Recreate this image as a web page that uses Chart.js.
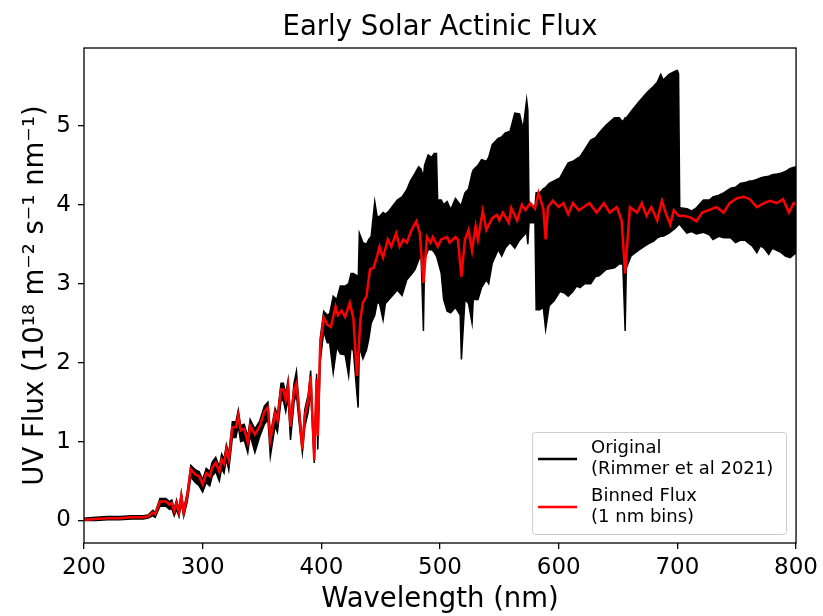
<!DOCTYPE html>
<html lang="en">
<head>
<meta charset="UTF-8">
<title>Early Solar Actinic Flux</title>
<script src="https://cdn.jsdelivr.net/npm/chart.js"></script>
<style>
  body, html { margin: 0; padding: 0; background: #fff; }
  #wrap { width: 823px; height: 616px; }
</style>
</head>
<body>
<div id="wrap"><canvas id="fluxChart" width="823" height="616"></canvas></div>
<script>
// binned flux (1 nm bins)
const redNm = [
  200,210,220,230,240,250,254,258,260,264,
  269,272,274,276,278,280,282,284,287,290,
  294,297,300,303,306,308,311,314,316,318,
  320,322,325,328,330,332,335,338,340,344,
  348,352,355,357,361,363,366,368,370,372,
  374,377,379,381,384,386,389,391,394,396,
  397,399,402,405,408,410,412,414,417,420,
  424,427,430,433,435,438,441,444,447,449,
  452,456,459,463,466,469,472,476,480,483,
  486,489,492,494,498,501,506,508,513,515,
  518,521,524,527,530,532,536,539,544,548,
  550,553,558,560,565,569,572,576,580,583,
  587,589,591,595,600,604,608,612,617,621,
  626,632,638,643,649,653,656,660,666,670,
  674,678,683,687,691,694,697,701,705,711,
  716,721,728,733,739,744,750,756,761,767,
  773,778,784,789,794,798,800
];
const redFlux = [
  0.01,0.02,0.03,0.03,0.04,0.04,0.05,0.10,0.08,0.24,
  0.24,0.20,0.22,0.12,0.22,0.10,0.31,0.10,0.31,0.65,
  0.58,0.56,0.46,0.60,0.56,0.67,0.73,0.62,0.77,0.72,
  0.90,0.77,1.18,1.18,1.33,1.14,1.16,0.99,1.20,1.09,
  1.19,1.38,1.43,1.02,1.36,1.27,1.66,1.66,1.53,1.70,
  1.19,1.66,1.74,1.43,0.90,1.32,1.53,1.83,0.77,1.79,
  1.07,2.21,2.57,2.48,2.45,2.58,2.71,2.60,2.66,2.58,
  2.76,2.56,1.83,2.56,2.76,2.84,3.18,3.20,3.35,3.47,
  3.33,3.56,3.47,3.64,3.47,3.56,3.52,3.68,3.79,3.64,
  3.01,3.59,3.52,3.59,3.47,3.56,3.59,3.52,3.59,3.56,
  3.09,3.56,3.68,3.42,3.73,3.56,3.92,3.68,3.83,3.87,
  3.80,3.90,3.77,3.96,3.80,4.00,3.93,4.02,3.95,4.15,
  3.95,3.56,3.97,4.05,3.97,4.02,3.88,4.02,3.93,3.97,
  4.02,3.90,4.02,3.90,3.97,3.80,3.13,3.97,3.90,4.02,
  3.86,3.97,3.80,4.05,3.86,3.75,3.93,3.86,3.86,3.84,
  3.79,3.90,3.94,3.97,3.90,4.02,4.08,4.10,4.07,3.97,
  4.02,4.05,4.02,4.07,3.90,4.02,4.00
];

// original spectrum (Rimmer et al 2021): too dense to trace, so upper / lower envelope
const blackNm = [
  200,210,220,230,240,250,254,258,260,264,
  269,272,274,276,278,280,282,284,287,290,
  294,297,300,303,306,308,311,314,316,318,
  320,322,325,328,330,332,335,338,340,344,
  348,352,355,357,361,363,366,368,370,372,
  374,377,379,381,384,386,389,391,394,396,
  397,399,402,405,407,410,413,416,420,423,
  425,427,430,431,432,435,438,440,442,445,
  447,449,452,454,457,460,464,468,472,475,
  479,482,484,486,487,490,493,495,497,498,
  501,503,506,509,513,517,518,521,524,527,
  528,532,535,539,541,544,549,552,555,559,
  563,567,570,573,574,575,580,581,584,587,
  589,592,596,601,605,608,612,615,618,622,
  627,631,634,640,647,651,654,656,657,661,
  668,675,680,683,686,688,693,698,700,701,
  702,708,712,716,722,727,730,735,739,745,
  749,753,757,761,763,767,770,773,777,780,
  784,787,791,795,800
];
const blackHi = [
  0.03,0.04,0.05,0.05,0.06,0.06,0.07,0.13,0.10,0.28,
  0.28,0.24,0.26,0.15,0.26,0.14,0.35,0.14,0.36,0.70,
  0.64,0.62,0.52,0.66,0.62,0.74,0.80,0.68,0.84,0.78,
  0.96,0.84,1.25,1.25,1.40,1.20,1.22,1.06,1.28,1.16,
  1.26,1.45,1.50,1.08,1.42,1.34,1.74,1.74,1.60,1.78,
  1.26,1.74,1.89,1.50,0.97,1.40,1.60,1.90,0.84,1.86,
  1.12,2.30,2.65,2.60,2.62,2.84,2.80,2.97,2.97,3.00,
  3.13,3.13,3.10,3.00,3.64,3.52,3.50,3.56,3.60,4.04,
  3.85,3.85,3.90,3.88,3.92,3.98,4.06,4.10,4.19,4.30,
  4.40,4.48,4.45,4.35,4.50,4.63,4.60,4.65,4.65,4.06,
  4.06,4.00,4.04,3.94,4.08,4.00,4.00,4.15,4.20,4.40,
  4.44,4.50,4.57,4.55,4.60,4.76,4.84,4.86,4.91,4.93,
  5.16,5.15,4.96,5.33,5.20,3.98,3.98,4.15,4.15,4.20,
  4.22,4.27,4.30,4.34,4.45,4.53,4.55,4.58,4.61,4.70,
  4.82,4.85,4.91,5.01,5.10,5.10,5.05,5.10,5.10,5.18,
  5.31,5.43,5.50,5.55,5.65,5.58,5.65,5.69,5.70,5.66,
  3.96,3.95,3.92,3.96,4.06,4.06,4.10,4.12,4.15,4.21,
  4.22,4.27,4.28,4.30,4.30,4.32,4.34,4.35,4.36,4.38,
  4.39,4.40,4.42,4.46,4.48
];
const blackLo = [
  0.00,0.00,0.01,0.01,0.02,0.02,0.03,0.06,0.04,0.18,
  0.18,0.14,0.15,0.06,0.14,0.05,0.22,0.05,0.24,0.55,
  0.48,0.44,0.36,0.48,0.44,0.56,0.62,0.50,0.66,0.60,
  0.78,0.64,1.05,1.05,1.20,1.00,1.02,0.86,1.08,0.86,
  1.06,1.22,1.28,0.81,1.20,1.12,1.52,1.52,1.38,1.56,
  1.02,1.50,1.60,1.28,0.86,1.18,1.38,1.66,0.73,1.64,
  0.90,2.00,2.40,2.25,2.25,1.87,2.20,2.11,2.10,1.83,
  2.20,2.15,1.60,1.43,2.20,2.05,2.16,2.30,2.50,2.60,
  2.76,2.75,2.54,2.75,2.80,2.85,2.92,2.85,3.05,3.10,
  3.18,3.30,3.37,2.40,3.30,3.43,3.43,3.40,3.35,3.30,
  3.13,2.80,2.65,2.63,2.70,2.60,2.04,2.80,2.75,2.50,
  2.80,2.80,2.95,3.05,3.00,3.26,3.43,3.35,3.45,3.52,
  3.45,3.55,3.60,3.65,3.50,3.77,3.77,2.67,2.67,2.70,
  2.42,2.72,2.78,2.90,2.88,2.84,2.90,2.97,2.95,3.00,
  3.00,3.09,3.10,3.18,3.20,3.25,3.25,2.40,3.20,3.35,
  3.43,3.50,3.54,3.58,3.60,3.60,3.64,3.70,3.73,3.75,
  3.75,3.64,3.66,3.63,3.65,3.62,3.56,3.60,3.58,3.58,
  3.52,3.55,3.55,3.50,3.48,3.39,3.48,3.45,3.37,3.45,
  3.42,3.40,3.35,3.33,3.39
];

const xTicks = [200, 300, 400, 500, 600, 700, 800];
const yTicks = [0, 1, 2, 3, 4, 5];

const FONT = 'DejaVu Sans';
const toPoints = (xs, ys) => xs.map((x, i) => ({ x: x, y: ys[i] }));

// matplotlib-like closed frame + title centred over the axes
const framePlugin = {
  id: 'frame',
  afterDatasetsDraw(chart) {
    const { ctx, chartArea: a } = chart;
    ctx.save();
    ctx.strokeStyle = '#000';
    ctx.lineWidth = 1.3;
    ctx.strokeRect(a.left, a.top, a.right - a.left, a.bottom - a.top);
    ctx.font = '27.5px "' + FONT + '"';
    ctx.fillStyle = '#000';
    ctx.textAlign = 'center';
    ctx.textBaseline = 'middle';
    ctx.fillText('Early Solar Actinic Flux', (a.left + a.right) / 2, a.top - 20);
    ctx.restore();
  }
};

// legend box inside the axes, lower right, two-line labels
const legendPlugin = {
  id: 'insideLegend',
  afterDraw(chart) {
    const { ctx, chartArea: a } = chart;
    const entries = [
      { color: '#000000', lines: ['Original', '(Rimmer et al 2021)'] },
      { color: '#ff0000', lines: ['Binned Flux', '(1 nm bins)'] }
    ];
    const w = 254, h = 102;
    const x0 = a.right - 10 - w, y0 = a.bottom - 9 - h;
    ctx.save();
    ctx.fillStyle = 'rgba(255,255,255,0.8)';
    ctx.strokeStyle = '#cccccc';
    ctx.lineWidth = 1;
    ctx.beginPath();
    ctx.roundRect(x0 + 0.5, y0 + 0.5, w, h, 3);
    ctx.fill();
    ctx.stroke();
    ctx.font = '18px "' + FONT + '"';
    ctx.textBaseline = 'middle';
    ctx.fillStyle = '#000';
    entries.forEach((e, i) => {
      const top = y0 + 8 + i * 48;
      ctx.strokeStyle = e.color;
      ctx.lineWidth = 2.5;
      ctx.beginPath();
      ctx.moveTo(x0 + 6, top + 19);
      ctx.lineTo(x0 + 45, top + 19);
      ctx.stroke();
      e.lines.forEach((t, j) => ctx.fillText(t, x0 + 59, top + 8 + j * 21));
    });
    ctx.restore();
  }
};

new Chart(document.getElementById('fluxChart'), {
  type: 'line',
  data: {
    datasets: [
      {
        label: 'Binned Flux',
        data: toPoints(redNm, redFlux),
        borderColor: '#ff0000',
        borderWidth: 2.5,
        pointRadius: 0,
        tension: 0,
        fill: false,
        order: 0
      },
      {
        label: 'Original low',
        data: toPoints(blackNm, blackLo),
        borderColor: '#000000',
        borderWidth: 1.5,
        pointRadius: 0,
        tension: 0,
        fill: false,
        order: 2
      },
      {
        label: 'Original',
        data: toPoints(blackNm, blackHi),
        borderColor: '#000000',
        backgroundColor: '#000000',
        borderWidth: 1.5,
        pointRadius: 0,
        tension: 0,
        fill: '-1',
        order: 1
      }
    ]
  },
  options: {
    responsive: false,
    animation: false,
    devicePixelRatio: 1,
    layout: { padding: { left: 0, right: 26, top: 48, bottom: 0 } },
    plugins: {
      legend: { display: false },
      tooltip: { enabled: false },
      title: { display: false }
    },
    scales: {
      x: {
        type: 'linear',
        min: 200,
        max: 800,
        afterBuildTicks: s => { s.ticks = xTicks.map(v => ({ value: v })); },
        afterFit: s => { s.height = 73; },
        ticks: { color: '#000', font: { family: FONT, size: 23 }, padding: 5, maxRotation: 0 },
        grid: { drawOnChartArea: false, drawTicks: true, tickLength: 6, color: '#000', lineWidth: 1.3 },
        border: { display: false },
        title: {
          display: true,
          text: 'Wavelength (nm)',
          color: '#000',
          font: { family: FONT, size: 27.5 },
          padding: { top: 0, bottom: 0 }
        }
      },
      y: {
        type: 'linear',
        min: -0.285,
        max: 5.985,
        afterBuildTicks: s => { s.ticks = yTicks.map(v => ({ value: v })); },
        afterFit: s => { s.width = 84; },
        ticks: { color: '#000', font: { family: FONT, size: 23 }, padding: 7 },
        grid: { drawOnChartArea: false, drawTicks: true, tickLength: 6, color: '#000', lineWidth: 1.3 },
        border: { display: false },
        title: {
          display: true,
          text: 'UV Flux (10¹⁸ m⁻² s⁻¹ nm⁻¹)',
          color: '#000',
          font: { family: FONT, size: 27.5 },
          padding: { top: 19, bottom: 0 }
        }
      }
    }
  },
  plugins: [framePlugin, legendPlugin]
});
</script>
</body>
</html>
